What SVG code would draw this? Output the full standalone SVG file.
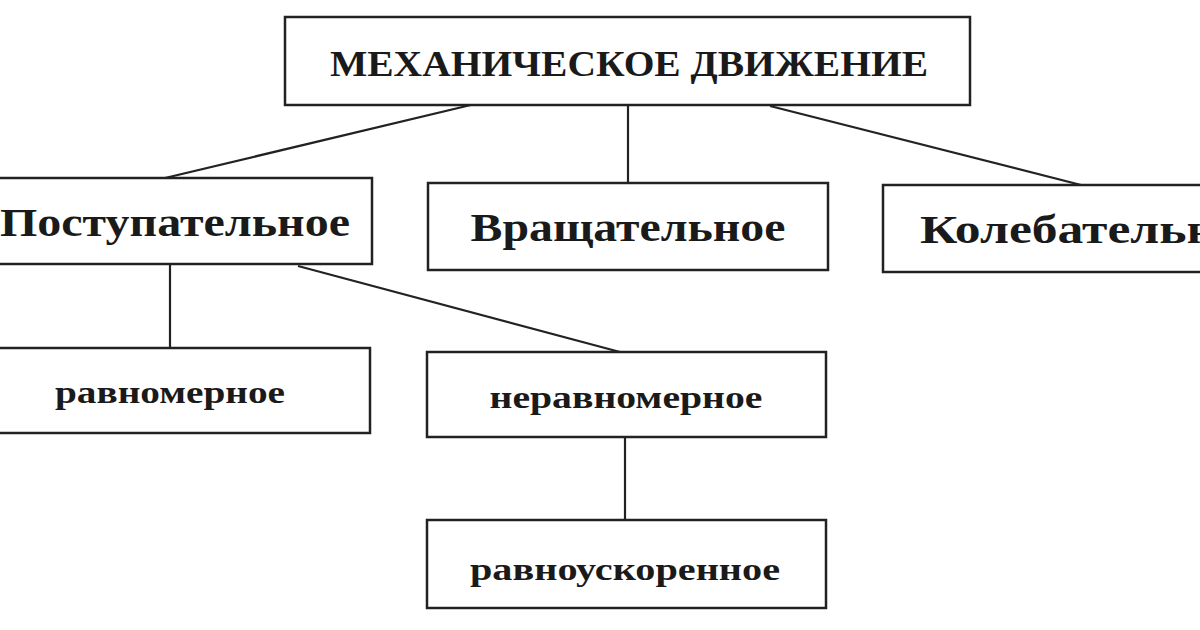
<svg xmlns="http://www.w3.org/2000/svg" width="1200" height="630" viewBox="0 0 1200 630">
<style>
rect{fill:#fff;stroke:#222;stroke-width:2.5}
line{stroke:#222;stroke-width:2.2}
text{font-family:"Liberation Serif","DejaVu Serif",serif;fill:#1a1a1a;text-anchor:middle;font-weight:bold}
.b{font-size:40px}
.s{font-size:31px}
</style>
<rect x="0" y="0" width="1200" height="630" style="stroke:none"/>
<g id="connectors">
<line x1="475" y1="104" x2="165" y2="178"/>
<line x1="628" y1="105" x2="628" y2="183"/>
<line x1="770" y1="106" x2="1085" y2="186"/>
<line x1="170" y1="264" x2="170" y2="348"/>
<line x1="298" y1="266" x2="620" y2="352"/>
<line x1="625" y1="437" x2="625" y2="520"/>
</g>
<g id="root"><rect x="285" y="17" width="685" height="88"/><text x="629" y="76" style="font-size:35px" textLength="598" lengthAdjust="spacingAndGlyphs">МЕХАНИЧЕСКОЕ ДВИЖЕНИЕ</text></g>
<g id="post"><rect x="-5" y="178" width="377" height="86"/><text class="b" x="175" y="236" textLength="350" lengthAdjust="spacingAndGlyphs">Поступательное</text></g>
<g id="vrash"><rect x="428" y="183" width="400" height="87"/><text class="b" x="628" y="241" textLength="315" lengthAdjust="spacingAndGlyphs">Вращательное</text></g>
<g id="koleb"><rect x="883" y="185" width="330" height="87"/><text class="b" x="920" y="243" style="text-anchor:start" textLength="345" lengthAdjust="spacingAndGlyphs">Колебательное</text></g>
<g id="ravn"><rect x="-5" y="348" width="375" height="85"/><text class="s" x="170" y="403" textLength="230" lengthAdjust="spacingAndGlyphs">равномерное</text></g>
<g id="neravn"><rect x="427" y="352" width="399" height="85"/><text class="s" x="626" y="408" textLength="273" lengthAdjust="spacingAndGlyphs">неравномерное</text></g>
<g id="uskor"><rect x="427" y="520" width="399" height="88"/><text class="s" x="625" y="580" textLength="310" lengthAdjust="spacingAndGlyphs">равноускоренное</text></g>
</svg>
